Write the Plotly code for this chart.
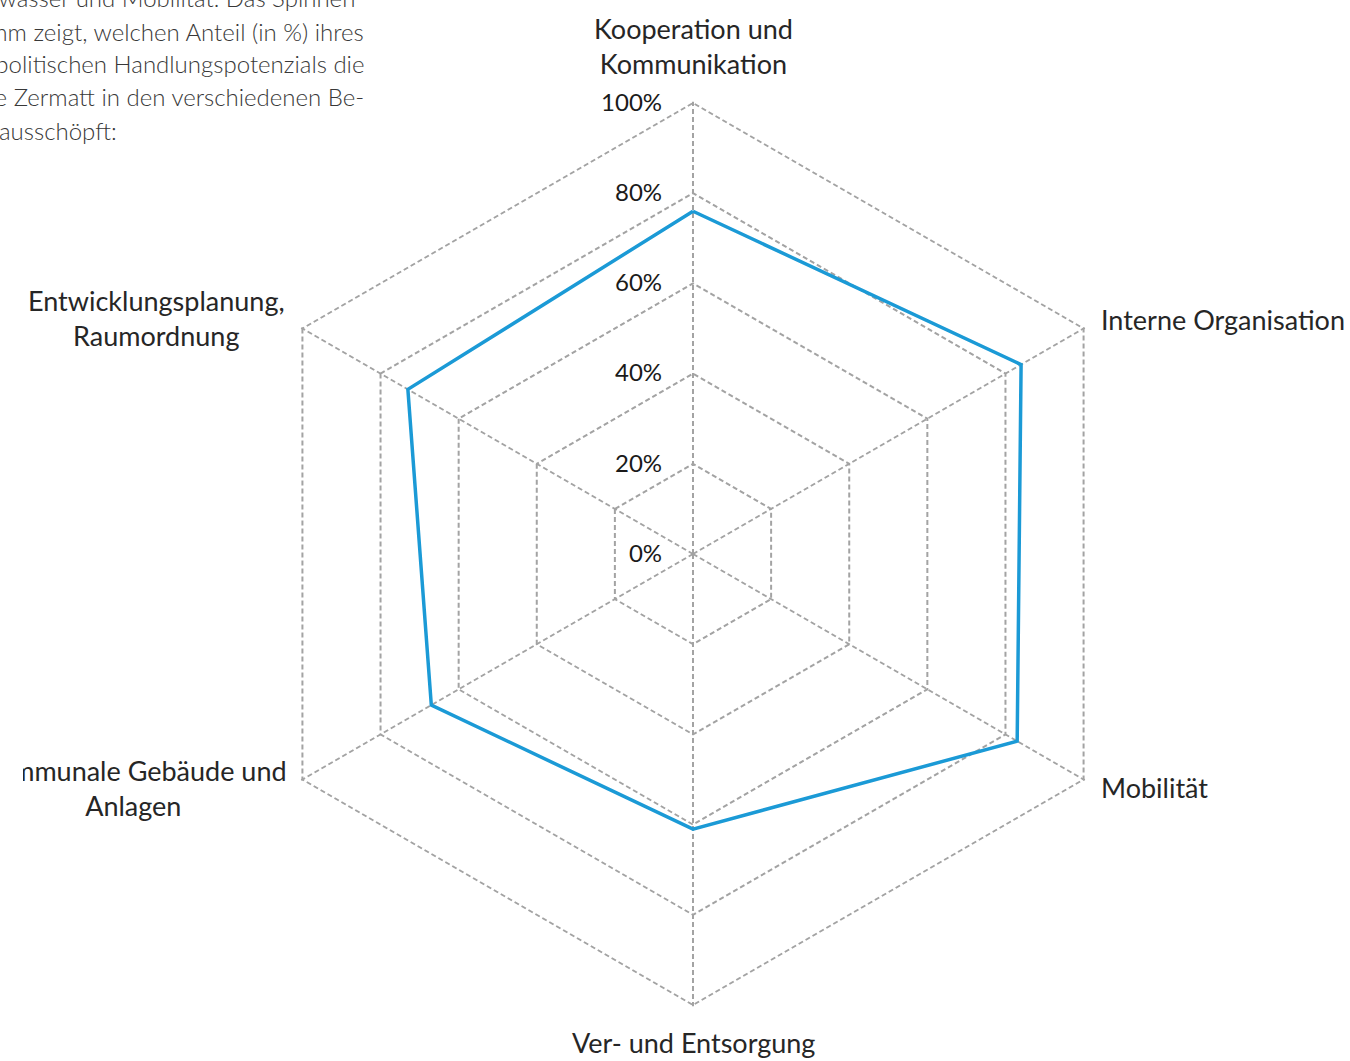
import plotly.graph_objects as go

# ---- data ----
categories = [
    "Kooperation und<br>Kommunikation",
    "Interne Organisation",
    "Mobilität",
    "Ver- und Entsorgung",
    "Kommunale Gebäude und<br>Anlagen",
    "Entwicklungsplanung,<br>Raumordnung",
]
values = [76, 84, 83, 61, 67, 73]
tick_values = [0, 20, 40, 60, 80, 100]
tick_labels = ["0%", "20%", "40%", "60%", "80%", "100%"]

paragraph_lines = [
    "Trinkwasser und Mobilität. Das Spinnen-",
    "diagramm zeigt, welchen Anteil (in %) ihres",
    "energiepolitischen Handlungspotenzials die",
    "Gemeinde Zermatt in den verschiedenen Be-",
]
paragraph_last = "ausschöpft:"

W, H = 1350, 1061
RMAX = 100.3                 # slightly past 100 so the 100% ring is drawn as a gridline
cx, cy = 693, 554
R = 451 * RMAX / 100
xd = [(cx - R) / W, (cx + R) / W]
yd = [(H - cy - R) / H, (H - cy + R) / H]

FAM = "Lato, Carlito, Open Sans, sans-serif"
LABEL_FONT = dict(family=FAM, size=27, color="#262626")
GRID = "#a3a3a3"
DASH = "5px,3px"

fig = go.Figure()
fig.add_trace(go.Scatterpolar(
    r=values + values[:1],
    theta=categories + categories[:1],
    mode="lines",
    line=dict(color="#1B9AD6", width=3.5),
    hoverinfo="skip",
    showlegend=False,
))

fig.update_layout(
    width=W, height=H,
    margin=dict(l=0, r=0, t=0, b=0),
    paper_bgcolor="white",
    polar=dict(
        domain=dict(x=xd, y=yd),
        bgcolor="white",
        gridshape="linear",
        angularaxis=dict(
            rotation=90, direction="clockwise",
            showticklabels=False, ticks="", showline=False,
            gridcolor=GRID, gridwidth=1.6, griddash=DASH,
        ),
        radialaxis=dict(
            range=[0, RMAX], tickvals=tick_values, ticktext=tick_labels,
            angle=90, tickangle=90, side="counterclockwise",
            showline=False, ticks="outside", ticklen=22, tickcolor="rgba(0,0,0,0)",
            gridcolor=GRID, gridwidth=1.6, griddash=DASH,
            tickfont=dict(family=FAM, size=24, color="#1a1a1a"),
        ),
    ),
)

def px(x):
    return x / W

def py(y):
    return 1 - y / H

# category labels (reference pixel positions)
label_pos = [
    (693, 46, "center", "center"),
    (1099, 319, "left", "left"),
    (1099, 787, "left", "left"),
    (693, 1042, "center", "center"),
    (133, 788, "center", "center"),
    (156, 318, "center", "center"),
]
for cat, (x, y, xa, al) in zip(categories, label_pos):
    fig.add_annotation(
        x=px(x), y=py(y), xref="paper", yref="paper",
        text=cat, showarrow=False, xanchor=xa, yanchor="middle", align=al,
        font=LABEL_FONT,
    )

# cropped page edge over the left label (the source image is cut here)
fig.add_annotation(
    x=px(-12), y=py(770), xref="paper", yref="paper",
    text=" ", showarrow=False, xanchor="left", yanchor="middle",
    width=35, height=44, bgcolor="white", borderpad=0, borderwidth=0,
    font=dict(size=10),
)

# paragraph text (cropped from page)
PARA_FONT = dict(family="Lato, Open Sans, sans-serif", size=24, color="#383838", weight=300)
for i, line in enumerate(paragraph_lines):
    fig.add_annotation(
        x=px(366), y=py(-2 + 33 * i), xref="paper", yref="paper",
        text=line, showarrow=False, xanchor="right", yanchor="middle",
        font=PARA_FONT,
    )
fig.add_annotation(
    x=px(-3), y=py(131), xref="paper", yref="paper",
    text=paragraph_last, showarrow=False, xanchor="left", yanchor="middle",
    font=PARA_FONT,
)

fig.write_html("out.html", config={"displayModeBar": False},
               post_script="document.body.style.margin='0px';")
